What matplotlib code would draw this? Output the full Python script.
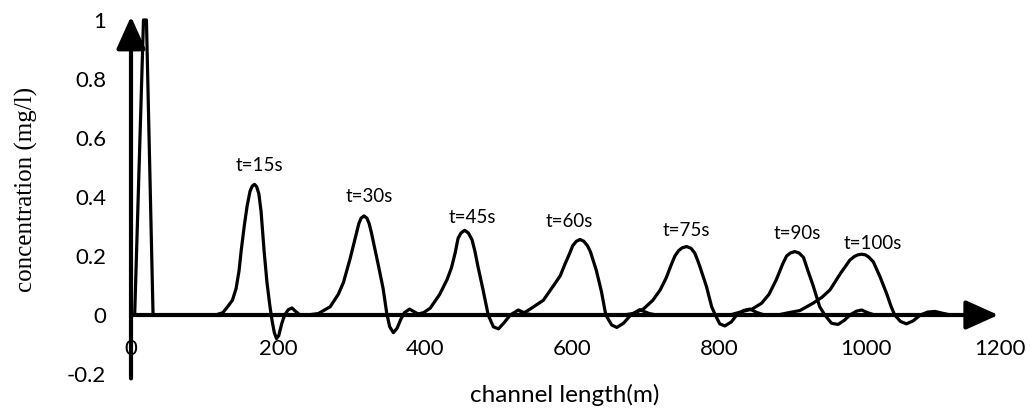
import matplotlib

matplotlib.use("Agg")
import matplotlib.pyplot as plt
from matplotlib.transforms import ScaledTranslation

plt.rcParams["font.family"] = ["Lato", "DejaVu Sans"]

# concentration profiles: channel length (m) vs concentration (mg/l)
x_t0 = [0, 5, 17, 21, 30, 60]
c_t0 = [0, 0, 1.0, 1.0, 0, 0]

x_t15 = [0, 115, 125, 132, 138, 143, 147, 150, 154, 158, 162, 165, 168, 171, 174, 177, 181,
         185, 189, 192, 195, 198, 201, 205, 209, 214, 219, 224, 230, 1120]
c_t15 = [0, 0, 0.008, 0.03, 0.05, 0.09, 0.15, 0.22, 0.30, 0.37, 0.42, 0.437, 0.443, 0.435,
         0.41, 0.35, 0.22, 0.11, 0.03, -0.02, -0.06, -0.08, -0.07, -0.03, 0, 0.018, 0.024,
         0.012, 0, 0]

x_t30 = [0, 240, 255, 271, 282, 289, 298, 307, 310, 313, 317, 321, 324, 327, 336, 343, 348,
         352, 357, 362, 367, 372, 379, 386, 393, 1120]
c_t30 = [0, 0, 0.005, 0.028, 0.07, 0.11, 0.19, 0.28, 0.31, 0.328, 0.336, 0.328, 0.31, 0.28,
         0.175, 0.09, 0.005, -0.04, -0.06, -0.045, -0.015, 0.008, 0.02, 0.01, 0, 0]

x_t45 = [0, 385, 398, 407, 420, 430, 436, 441, 445, 449, 454, 459, 464, 468, 472, 479, 486,
         493, 500, 508, 516, 527, 538, 548, 1120]
c_t45 = [0, 0, 0.008, 0.023, 0.07, 0.12, 0.16, 0.21, 0.26, 0.278, 0.287, 0.278, 0.255, 0.215,
         0.165, 0.085, 0, -0.04, -0.047, -0.025, 0, 0.017, 0.004, 0, 0]

x_t60 = [0, 525, 535, 543, 561, 575, 584, 590, 597, 601, 606, 611, 616, 621, 625, 633, 640,
         646, 654, 661, 670, 680, 692, 705, 715, 1120]
c_t60 = [0, 0, 0.008, 0.02, 0.05, 0.1, 0.133, 0.17, 0.21, 0.235, 0.25, 0.256, 0.25, 0.235,
         0.215, 0.152, 0.08, 0, -0.034, -0.042, -0.028, 0, 0.018, 0.005, 0, 0]

x_t75 = [0, 670, 683, 697, 710, 720, 728, 735, 740, 745, 750, 756, 762, 767, 771, 774, 783,
         790, 795, 801, 808, 817, 824, 833, 842, 852, 862, 1120]
c_t75 = [0, 0, 0.005, 0.02, 0.05, 0.085, 0.125, 0.17, 0.2, 0.218, 0.228, 0.232, 0.226, 0.21,
         0.185, 0.164, 0.096, 0.028, 0, -0.03, -0.037, -0.023, 0, 0.015, 0.02, 0.008, 0, 0]

x_t90 = [0, 815, 829, 845, 858, 868, 878, 887, 892, 897, 903, 909, 915, 921, 928, 937, 944,
         953, 962, 971, 978, 987, 994, 1002, 1012, 1120]
c_t90 = [0, 0, 0.01, 0.02, 0.04, 0.07, 0.12, 0.175, 0.2, 0.21, 0.215, 0.21, 0.195, 0.15, 0.1,
         0.028, 0, -0.028, -0.032, -0.017, 0, 0.013, 0.017, 0.008, 0, 0]

x_t100 = [0, 880, 895, 910, 928, 940, 951, 965, 978, 984, 989, 994, 999, 1004, 1010, 1019,
          1028, 1034, 1039, 1047, 1055, 1064, 1074, 1084, 1094, 1104, 1115, 1150]
c_t100 = [0, 0, 0.008, 0.015, 0.04, 0.06, 0.085, 0.14, 0.186, 0.198, 0.204, 0.206, 0.204,
          0.196, 0.18, 0.13, 0.073, 0.03, 0, -0.022, -0.03, -0.02, 0, 0.01, 0.012, 0.006, 0, 0]

series = [
    (x_t0, c_t0),
    (x_t15, c_t15),
    (x_t30, c_t30),
    (x_t45, c_t45),
    (x_t60, c_t60),
    (x_t75, c_t75),
    (x_t90, c_t90),
    (x_t100, c_t100),
]

time_labels = ["t=15s", "t=30s", "t=45s", "t=60s", "t=75s", "t=90s", "t=100s"]
label_x = [175, 324, 465, 597, 756, 906, 1009]
label_y = [0.508, 0.40, 0.329, 0.316, 0.288, 0.277, 0.244]

x_ticks = [0, 200, 400, 600, 800, 1000, 1200]
y_ticks = [-0.2, 0, 0.2, 0.4, 0.6, 0.8, 1]
y_tick_labels = ["-0.2", "0", "0.2", "0.4", "0.6", "0.8", "1"]

fig = plt.figure(figsize=(10.3, 4.12), dpi=100)
ax = fig.add_axes([131 / 1030, 38 / 412, 882 / 1030, 354 / 412])
ax.set_xlim(0, 1200)
ax.set_ylim(-0.2, 1.0)

for xs, cs in series:
    ax.plot(xs, cs, color="black", linewidth=2.3, solid_joinstyle="round", clip_on=False, zorder=3)

for text, tx, ty in zip(time_labels, label_x, label_y):
    ax.text(tx, ty, text, fontsize=13.5, ha="center", va="center")

# axis lines drawn as arrows through the origin
arrow = dict(arrowstyle="-|>,head_length=1.0,head_width=0.45", mutation_scale=20,
             color="black", linewidth=3, shrinkA=0, shrinkB=0)
ax.annotate("", xy=(1180, 0), xytext=(0, 0), arrowprops=arrow, annotation_clip=False, zorder=2)
ax.annotate("", xy=(0, 1.012), xytext=(0, -0.215), arrowprops=arrow, annotation_clip=False, zorder=2)

for side in ["top", "right", "bottom", "left"]:
    ax.spines[side].set_visible(False)
ax.spines["bottom"].set_position(("data", 0))
ax.spines["left"].set_position(("data", 0))

ax.set_xticks(x_ticks)
ax.set_yticks(y_ticks)
ax.set_yticklabels(y_tick_labels)
ax.tick_params(axis="x", length=0, pad=17, labelsize=16)
ax.tick_params(axis="y", length=0, pad=18, labelsize=16)

# the last x label is pushed inside the figure edge, as in the original
last = ax.get_xticklabels()[-1]
last.set_horizontalalignment("right")
last.set_transform(last.get_transform() + ScaledTranslation(0.13, 0, fig.dpi_scale_trans))

ax.set_xlabel("channel length(m)", fontsize=17.5)
ax.xaxis.set_label_coords(0.492, -0.059)
ax.xaxis.label.set_verticalalignment("center")

ax.set_ylabel("concentration (mg/l)", fontsize=18, family=["Liberation Serif", "DejaVu Serif"])
ax.yaxis.set_label_coords(-0.118, 0.52)
ax.yaxis.label.set_verticalalignment("center")

fig.savefig("out.png", dpi=100)
